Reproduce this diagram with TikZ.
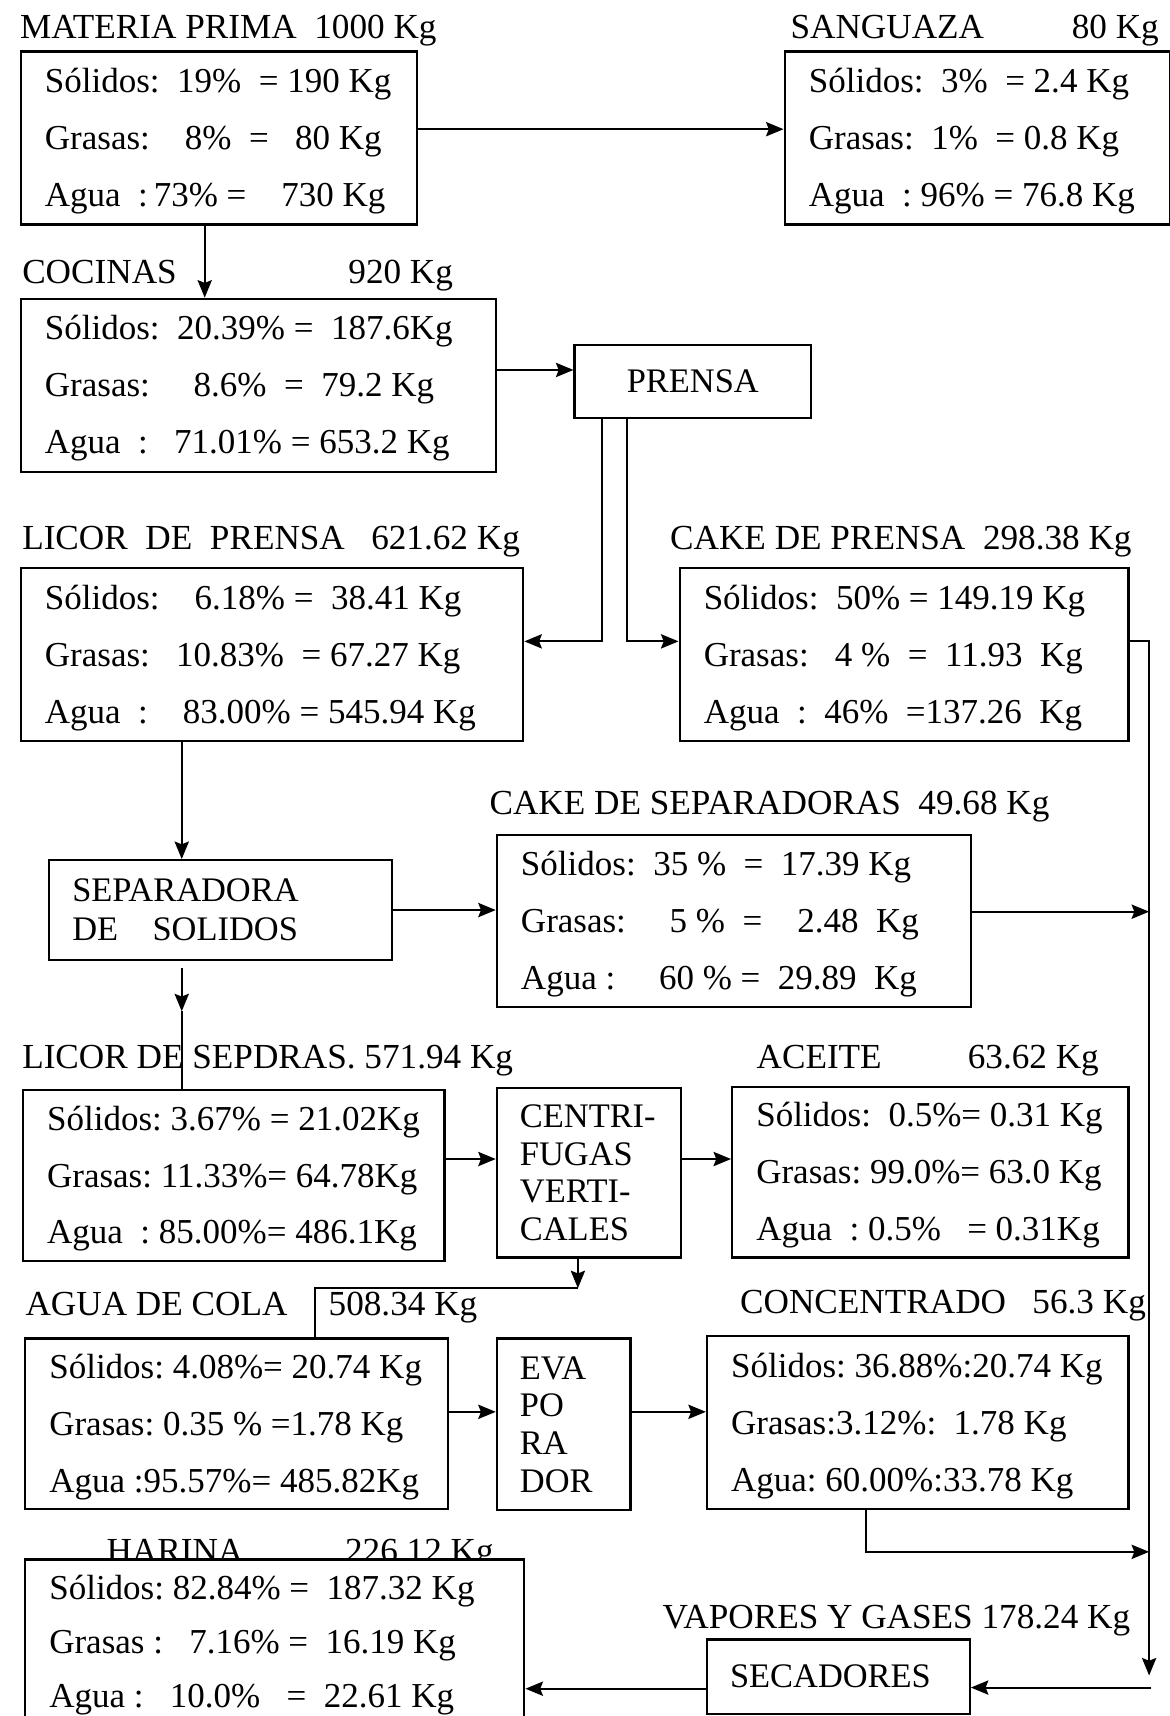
\documentclass[tikz,border=0pt]{standalone}
\usepackage{fontspec}
\setmainfont{Liberation Serif}
\usetikzlibrary{arrows.meta}

\begin{document}
\begin{tikzpicture}[
    bal/.style={draw, line width=1.2pt, anchor=north west, align=flush left,
      inner xsep=0.44cm, inner ysep=0pt, minimum height=3.16cm,
      font=\fontsize{18.2}{29.6}\selectfont\frenchspacing,
      execute at begin node={\rule{0pt}{16pt}}},
    equipo/.style={draw, line width=1.2pt, anchor=north west, align=flush left,
      inner xsep=0.42cm, inner ysep=0pt,
      font=\fontsize{17.9}{19.6}\selectfont\frenchspacing},
    ttl/.style={anchor=base west, inner sep=0pt,
      font=\fontsize{18.3}{20}\selectfont\frenchspacing},
    flow/.style={-{Stealth[length=3.2mm,width=2.6mm,inset=0.5mm]}, line width=1.1pt},
    linea/.style={line width=1.1pt},
  ]
  \useasboundingbox (0,0) rectangle (21.38,-31.36);

  % Titles
  \node[ttl] (tmp) at (0.36,-0.70) {MATERIA PRIMA~~1000 Kg};
  \node[ttl] (tsang) at (14.44,-0.70) {SANGUAZA};
  \node[ttl] (ksang) at (19.58,-0.70) {80 Kg};
  \node[ttl] (tcoc) at (0.40,-5.18) {COCINAS};
  \node[ttl] (kcoc) at (6.36,-5.18) {920 Kg};
  \node[ttl] (tlicp) at (0.40,-10.04) {LICOR~~DE~~PRENSA~~~621.62 Kg};
  \node[ttl] (tcakep) at (12.24,-10.04) {CAKE DE PRENSA~~298.38 Kg};
  \node[ttl] (tcakes) at (8.94,-14.88) {CAKE DE SEPARADORAS~~49.68 Kg};
  \node[ttl] (tlics) at (0.40,-19.52) {LICOR DE SEPDRAS. 571.94 Kg};
  \node[ttl] (tace) at (13.82,-19.52) {ACEITE};
  \node[ttl] (kace) at (17.68,-19.52) {63.62 Kg};
  \node[ttl] (tcola) at (0.46,-24.04) {AGUA DE COLA};
  \node[ttl] (kcola) at (6.00,-24.04) {508.34 Kg};
  \node[ttl] (tconc) at (13.52,-24.00) {CONCENTRADO~~~56.3 Kg};
  \node[ttl] (thar) at (1.94,-28.56) {HARINA};
  \node[ttl] (khar) at (6.30,-28.56) {226.12 Kg};
  \node[ttl] (tvap) at (12.10,-29.76) {VAPORES Y GASES 178.24 Kg};

  % Balance boxes
  \node[bal, text width=6.36cm] (mp) at (0.36,-0.92)
    {Sólidos:~~19\%~~=~190~Kg\\Grasas:~~~~8\%~~=~~~80~Kg\\Agua~~:\,73\%~=~~~~730~Kg};
  \node[bal, text width=6.16cm] (sang) at (14.32,-0.92)
    {Sólidos:~~3\%~~=~2.4~Kg\\Grasas:~~1\%~~=~0.8~Kg\\Agua~~:~96\%~=~76.8~Kg};
  \node[bal, text width=7.80cm] (coc) at (0.36,-5.44)
    {Sólidos:~~20.39\%~=~~187.6Kg\\Grasas:~~~~~8.6\%~~=~~79.2~Kg\\Agua~~:~~~71.01\%~=~653.2~Kg};
  \node[bal, text width=8.30cm] (licp) at (0.36,-10.36)
    {Sólidos:~~~~6.18\%~=~~38.41~Kg\\Grasas:~~~10.83\%~~=~67.27~Kg\\Agua~~:~~~~83.00\%~=~545.94~Kg};
  \node[bal, text width=7.32cm] (cakep) at (12.40,-10.36)
    {Sólidos:~~50\%~=~149.19~Kg\\Grasas:~~~4~\%~~=~~11.93~~Kg\\Agua~~:~~46\%~~=137.26~~Kg};
  \node[bal, text width=7.78cm, minimum height=3.14cm] (cakes) at (9.06,-15.24)
    {Sólidos:~~35~\%~~=~~17.39~Kg\\Grasas:~~~~~5~\%~~=~~~~2.48~~Kg\\Agua~:~~~~~60~\%~=~~29.89~~Kg};
  \node[bal, text width=6.82cm, minimum height=3.12cm] (lics) at (0.40,-19.90)
    {Sólidos:~3.67\%~=~21.02Kg\\Grasas:~11.33\%=~64.78Kg\\Agua~~:~85.00\%=~486.1Kg};
  \node[bal, text width=6.36cm, minimum height=3.12cm] (aceite) at (13.36,-19.84)
    {Sólidos:~~0.5\%=~0.31~Kg\\Grasas:~99.0\%=~63.0~Kg\\Agua~~:~0.5\%~~~=~0.31Kg};
  \node[bal, text width=6.84cm, minimum height=3.12cm] (cola) at (0.44,-24.44)
    {Sólidos:~4.08\%=~20.74~Kg\\Grasas:~0.35~\%~=1.78~Kg\\Agua~:95.57\%=~485.82Kg};
  \node[bal, text width=6.82cm] (conc) at (12.90,-24.40)
    {Sólidos:~36.88\%:20.74~Kg\\Grasas:3.12\%:~~1.78~Kg\\Agua:~60.00\%:33.78~Kg};
  \node[bal, text width=8.24cm, fill=white, minimum height=3.0cm,
    font=\fontsize{18.2}{28}\selectfont\frenchspacing] (harina) at (0.44,-28.48)
    {Sólidos:~82.84\%~=~~187.32~Kg\\Grasas~:~~~7.16\%~=~~16.19~Kg\\Agua~:~~~10.0\%~~~=~~22.61~Kg};

  % Equipment
  \node[equipo, align=center, inner sep=0pt, minimum width=4.32cm,
    minimum height=1.34cm] (prensa) at (10.48,-6.28) {PRENSA};
  \node[equipo, text width=5.42cm, minimum height=1.82cm,
    font=\fontsize{17.9}{20.5}\selectfont\frenchspacing] (sep) at (0.88,-15.70)
    {SEPARADORA\\DE~~~~SOLIDOS};
  \node[equipo, text width=2.52cm, minimum height=3.10cm] (centri) at (9.06,-19.86)
    {CENTRI-\\FUGAS\\VERTI-\\CALES};
  \node[equipo, text width=1.60cm, minimum height=3.14cm] (evap) at (9.06,-24.44)
    {EVA\\PO\\RA\\DOR};
  \node[equipo, text width=3.96cm, minimum height=1.36cm] (sec) at (12.90,-29.94)
    {SECADORES};

  % Materia prima -> sanguaza, cocinas
  \coordinate (s1) at ([yshift=0.16cm]mp.east);
  \draw[flow] (s1) -- (s1 -| sang.west);
  \coordinate (s2) at ([xshift=-0.26cm]mp.south);
  \draw[flow] (s2) -- (s2 |- coc.north);

  % Cocinas -> prensa -> licor / cake
  \coordinate (s3) at ([yshift=0.28cm]coc.east);
  \draw[flow] (s3) -- (s3 -| prensa.west);
  \coordinate (s4) at ([xshift=-1.66cm]prensa.south);
  \coordinate (s5) at ([xshift=-1.20cm]prensa.south);
  \draw[flow] (s4) |- ([yshift=0.24cm]licp.east);
  \draw[flow] (s5) |- ([yshift=0.24cm]cakep.west);

  % Collector to secadores
  \coordinate (bus) at (21.0,-30.62);
  \draw[flow] ([yshift=0.24cm]cakep.east) -| (bus);

  % Licor de prensa -> separadora
  \coordinate (s6) at ([xshift=-1.65cm]licp.south);
  \draw[flow] (s6) -- (s6 |- sep.north);
  \draw[flow] (sep.east) -- (sep.east -| cakes.west);
  \coordinate (s7) at ([xshift=-0.71cm,yshift=-0.12cm]sep.south);
  \coordinate (s8) at ([xshift=-0.71cm,yshift=-0.92cm]sep.south);
  \draw[flow] (s7) -- (s8);
  \draw[linea] (s8) -- (s8 |- lics.north);
  \coordinate (s9) at ([yshift=0.17cm]cakes.east);
  \draw[flow] (s9) -- (s9 -| bus);

  % Centrifugas
  \coordinate (s10) at ([yshift=0.30cm]lics.east);
  \draw[flow] (s10) -- (s10 -| centri.west);
  \coordinate (s11) at ([yshift=0.25cm]centri.east);
  \draw[flow] (s11) -- (s11 -| aceite.west);
  \coordinate (s12) at ([xshift=-0.20cm]centri.south);
  \coordinate (s13) at ([xshift=-0.20cm,yshift=-0.54cm]centri.south);
  \draw[flow] (s12) -- (s13);
  \draw[linea] (s13) -| ([xshift=1.44cm]cola.north);

  % Evaporador
  \coordinate (s14) at ([yshift=0.22cm]cola.east);
  \draw[flow] (s14) -- (s14 -| evap.west);
  \coordinate (s15) at ([yshift=0.20cm]conc.west);
  \draw[flow] (s15 -| evap.east) -- (s15);
  \coordinate (s16) at ([xshift=-0.95cm]conc.south);
  \coordinate (bconc) at (21.0,-28.36);
  \draw[flow] (s16) |- (bconc);

  % Secadores -> harina
  \coordinate (bsec) at (21.04,-30.84);
  \draw[flow] (bsec) -- (bsec -| sec.east);
  \coordinate (s17) at ([yshift=-0.22cm]sec.west);
  \draw[flow] (s17) -- (s17 -| harina.east);
\end{tikzpicture}
\end{document}
